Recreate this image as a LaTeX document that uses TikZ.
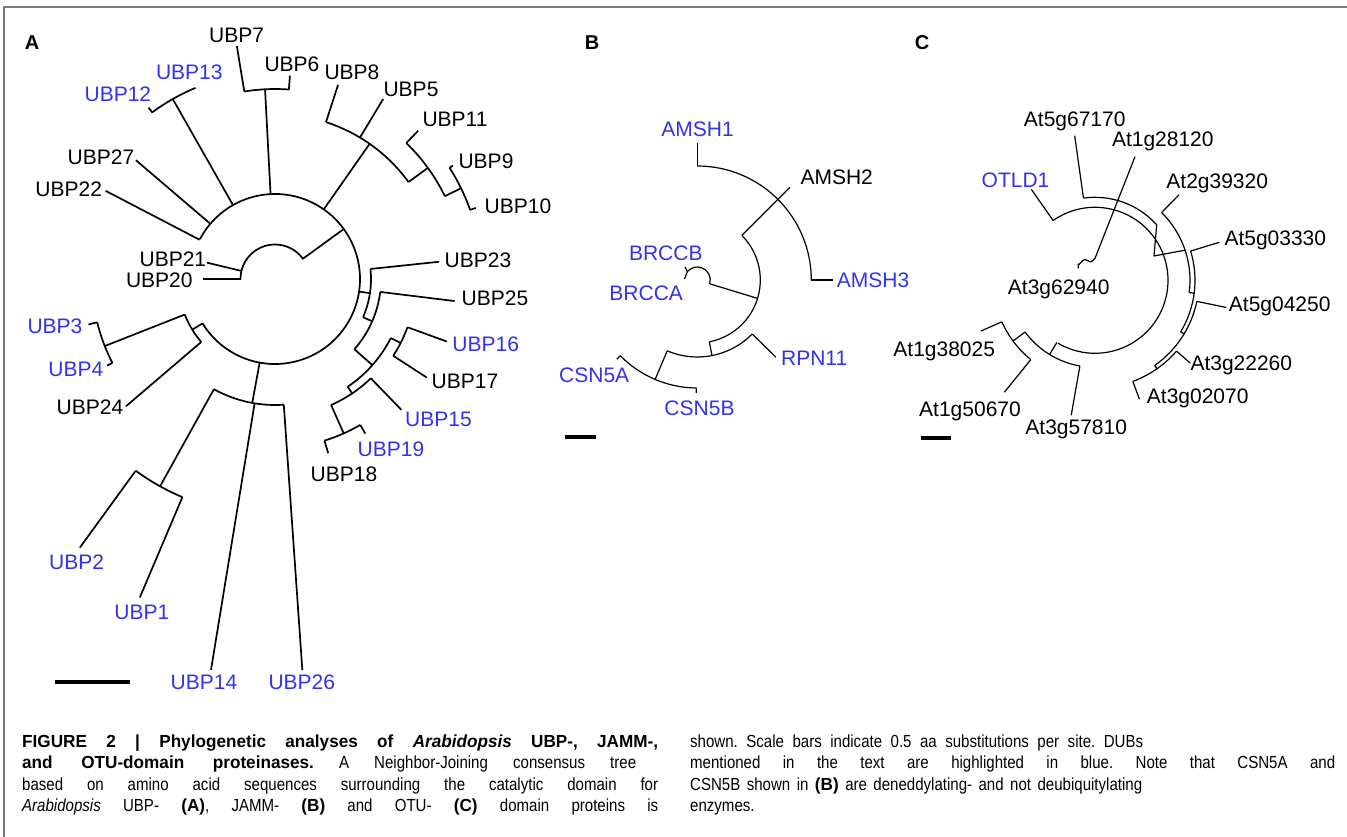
\documentclass[tikz,border=0pt]{standalone}
\usepackage{fontspec}
\setmainfont{Liberation Sans}
\newfontfamily\capfont[FakeStretch=0.86]{Liberation Sans}
\newfontfamily\capbfont[FakeStretch=0.98]{Liberation Sans}
\newcommand\cb[1]{{\capbfont\bfseries #1}}
\usetikzlibrary{calc}
\definecolor{hb}{RGB}{50,50,235}
\definecolor{framegray}{RGB}{120,120,120}
\newcommand\rad[5]{\draw[#1] ($(#2)+(#3:#4)$) -- ($(#2)+(#3:#5)$);}
\newcommand\arcc[5]{\draw[#1] ($(#2)+(#3:#5)$) arc[start angle=#3, end angle=#4, radius=#5];}
\begin{document}
\begin{tikzpicture}[x=1pt,y=-1pt,
  lab/.style={inner sep=0pt, font=\fontsize{21}{21}\selectfont},
  blab/.style={lab, text=hb},
  pan/.style={inner sep=0pt, font=\fontsize{20}{20}\selectfont\bfseries},
  ta/.style={line width=1.7pt, line join=round},
  tb/.style={line width=1.2pt, line join=round},
  sbar/.style={line width=4pt},
  captxt/.style={inner sep=0pt, anchor=base west, font=\capfont\fontsize{17.5}{21}\selectfont\frenchspacing}]
\useasboundingbox (0,0) rectangle (1347,837);
\draw[framegray, line width=2pt] (3,7) -- (1347,7);
\draw[framegray, line width=1.5pt] (4,7) -- (4,837);

% ---------------- Panel A ----------------
\node[pan] (pA) at (32,42.5) {A};
\coordinate (cA) at (275,279);
\arcc{ta}{cA}{208}{508.5}{85}
\rad{ta}{cA}{207.5}{85}{191}
\rad{ta}{cA}{220.5}{85}{183}
\rad{ta}{cA}{240.4}{85}{207}
\arcc{ta}{cA}{233.6}{247.4}{207}
\rad{ta}{cA}{233.6}{207}{213}
\rad{ta}{cA}{267}{85}{190}
\arcc{ta}{cA}{260.7}{274.2}{190}
\rad{ta}{cA}{260.7}{190}{236}
\rad{ta}{cA}{274.2}{190}{204}
\rad{ta}{cA}{305}{85}{165}
\arcc{ta}{cA}{288}{324}{165}
\rad{ta}{cA}{288}{165}{204}
\rad{ta}{cA}{301}{165}{210}
\rad{ta}{cA}{324}{165}{189}
\arcc{ta}{cA}{314}{334}{189}
\rad{ta}{cA}{314}{189}{206}
\rad{ta}{cA}{334}{189}{207}
\arcc{ta}{cA}{327.5}{340.5}{207}
\rad{ta}{cA}{327.5}{207}{211}
\rad{ta}{cA}{340.5}{207}{213}
\rad{ta}{cA}{324}{85}{34.5}
\arcc{ta}{cA}{180}{325}{34.5}
\rad{ta}{cA}{180}{34.5}{72}
\rad{ta}{cA}{193.5}{34.5}{70}
\rad{ta}{cA}{8.5}{85}{96}
\arcc{ta}{cA}{354}{383.5}{96}
\rad{ta}{cA}{354}{96}{165}
\rad{ta}{cA}{23.5}{96}{106}
\arcc{ta}{cA}{7}{41.5}{106}
\rad{ta}{cA}{7}{106}{181}
\rad{ta}{cA}{41.5}{106}{130}
\arcc{ta}{cA}{27}{56}{130}
\rad{ta}{cA}{27}{130}{141}
\arcc{ta}{cA}{20}{33}{141}
\rad{ta}{cA}{20}{141}{183}
\rad{ta}{cA}{33}{141}{181}
\rad{ta}{cA}{56}{130}{138}
\arcc{ta}{cA}{46}{66}{138}
\rad{ta}{cA}{46}{138}{182}
\rad{ta}{cA}{66}{138}{169}
\arcc{ta}{cA}{59.7}{73}{169}
\rad{ta}{cA}{59.7}{169}{179}
\rad{ta}{cA}{73}{169}{182}
\rad{ta}{cA}{100.4}{85}{126}
\arcc{ta}{cA}{86}{119}{126}
\rad{ta}{cA}{99.3}{126}{396}
\rad{ta}{cA}{86}{126}{392}
\rad{ta}{cA}{119}{126}{237}
\arcc{ta}{cA}{113}{126}{237}
\rad{ta}{cA}{126}{237}{332}
\rad{ta}{cA}{113}{237}{346}
\rad{ta}{cA}{148.5}{85}{97}
\arcc{ta}{cA}{139.5}{158.5}{97}
\rad{ta}{cA}{139.5}{97}{196}
\rad{ta}{cA}{158.5}{97}{183}
\arcc{ta}{cA}{152.7}{166.3}{183}
\rad{ta}{cA}{166.3}{183}{192}
\rad{ta}{cA}{152.7}{183}{189}

\node[lab]  (UBP7)  at (236.6,35.8) {UBP7};
\node[lab]  (UBP6)  at (292,64.2) {UBP6};
\node[blab] (UBP13) at (189.3,72.5) {UBP13};
\node[blab] (UBP12) at (117.9,94.2) {UBP12};
\node[lab]  (UBP8)  at (352,72.5) {UBP8};
\node[lab]  (UBP5)  at (411,89) {UBP5};
\node[lab]  (UBP11) at (455,119) {UBP11};
\node[lab]  (UBP27) at (101,157.5) {UBP27};
\node[lab]  (UBP9)  at (486,161.5) {UBP9};
\node[lab]  (UBP22) at (68.75,189) {UBP22};
\node[lab]  (UBP10) at (518,206) {UBP10};
\node[lab]  (UBP21) at (172.9,259) {UBP21};
\node[lab]  (UBP20) at (159.3,280.5) {UBP20};
\node[lab]  (UBP23) at (478,260) {UBP23};
\node[lab]  (UBP25) at (495,298) {UBP25};
\node[blab] (UBP3)  at (55,326) {UBP3};
\node[blab] (UBP16) at (485.7,344) {UBP16};
\node[blab] (UBP4)  at (75.9,369) {UBP4};
\node[lab]  (UBP17) at (465,381.7) {UBP17};
\node[lab]  (UBP24) at (90,407.5) {UBP24};
\node[blab] (UBP15) at (438.5,419) {UBP15};
\node[blab] (UBP19) at (391,449) {UBP19};
\node[lab]  (UBP18) at (344,474) {UBP18};
\node[blab] (UBP2)  at (76.6,562.5) {UBP2};
\node[blab] (UBP1)  at (141.8,612.5) {UBP1};
\node[blab] (UBP14) at (204,682.5) {UBP14};
\node[blab] (UBP26) at (301.8,682.5) {UBP26};
\coordinate (sA1) at (55.4,681.7); \coordinate (sA2) at (130.4,681.7);
\draw[sbar] (sA1) -- (sA2);

% ---------------- Panel B ----------------
\node[pan] (pB) at (592.2,42.2) {B};
\coordinate (cB) at (697.3,280);
\arcc{tb}{cB}{270}{360}{114}
\rad{tb}{cB}{270}{114}{137}
\rad{tb}{cB}{0}{114}{136}
\rad{tb}{cB}{315}{63}{131}
\arcc{tb}{cB}{315}{439}{63}
\rad{tb}{cB}{17}{63}{13}
\arcc{tb}{cB}{377}{220}{13}
\draw[tb] ($(cB)+(220:13)$) -- ($(cB)+(226.6:17.9)$);
\draw[tb] ($(cB)+(220:13)$) -- ($(cB)+(184.5:12.8)$);
\rad{tb}{cB}{79}{63}{77}
\arcc{tb}{cB}{44.5}{113}{77}
\rad{tb}{cB}{44.5}{77}{110}
\rad{tb}{cB}{113}{77}{108}
\arcc{tb}{cB}{90.5}{135.5}{108}
\rad{tb}{cB}{90.5}{108}{113}
\rad{tb}{cB}{135.5}{108}{113}
\node[blab] (AMSH1) at (697.5,129) {AMSH1};
\node[lab]  (AMSH2) at (836.7,177.5) {AMSH2};
\node[blab] (AMSH3) at (873,280) {AMSH3};
\node[blab] (BRCCB) at (665.8,253.3) {BRCCB};
\node[blab] (BRCCA) at (646.2,293.3) {BRCCA};
\node[blab] (RPN11) at (814.2,358.3) {RPN11};
\node[blab] (CSN5A) at (594.2,375) {CSN5A};
\node[blab] (CSN5B) at (699.5,408.3) {CSN5B};
\coordinate (sB1) at (565,437); \coordinate (sB2) at (596,437);
\draw[sbar] (sB1) -- (sB2);

% ---------------- Panel C ----------------
\node[pan] (pC) at (922,43) {C};
\coordinate (cC) at (1095,280.3);
\arcc{tb}{cC}{235}{480.5}{73}
\rad{tb}{cC}{235}{73}{111}
\rad{tb}{cC}{262}{83}{146}
\arcc{tb}{cC}{262}{318}{83}
\coordinate (P) at (1154,256);
\draw[tb] ($(cC)+(318:83)$) -- (P) -- ($(cC)+(341.5:95)$);
\arcc{tb}{cC}{314.5}{367.4}{95}
\rad{tb}{cC}{314.5}{95}{120}
\rad{tb}{cC}{7.4}{95}{100}
\arcc{tb}{cC}{343}{391}{100}
\rad{tb}{cC}{343}{100}{130}
\rad{tb}{cC}{31}{100}{104}
\arcc{tb}{cC}{11.7}{55}{104}
\rad{tb}{cC}{11.7}{104}{134}
\rad{tb}{cC}{55}{104}{108}
\arcc{tb}{cC}{41}{69.5}{108}
\rad{tb}{cC}{41}{108}{126}
\rad{tb}{cC}{69.5}{108}{127}
\rad{tb}{cC}{121.5}{73}{87}
\arcc{tb}{cC}{100}{143.5}{87}
\rad{tb}{cC}{100}{87}{137}
\rad{tb}{cC}{143.5}{87}{102}
\arcc{tb}{cC}{129}{156}{102}
\rad{tb}{cC}{129}{102}{144}
\rad{tb}{cC}{156}{102}{125}
\coordinate (r0) at (1078.3,268.3);
\coordinate (r1) at (1095,258.3);
\coordinate (t28120) at (1135,156.7);
\draw[tb] (r0) -- (1078.3,264) to[out=-90,in=180] (1085,259.5) to[out=0,in=-150] (1091.7,261.5) -- (r1) -- (t28120);
\node[lab]  (At5g67170) at (1074.7,121.7) {At5g67170};
\node[lab]  (At1g28120) at (1162.8,141.7) {At1g28120};
\node[blab] (OTLD1)     at (1015.5,180) {OTLD1};
\node[lab]  (At2g39320) at (1217.2,183.3) {At2g39320};
\node[lab]  (At5g03330) at (1275.3,240) {At5g03330};
\node[lab]  (At3g62940) at (1058.7,289.2) {At3g62940};
\node[lab]  (At5g04250) at (1279.7,306.2) {At5g04250};
\node[lab]  (At1g38025) at (944.2,351.7) {At1g38025};
\node[lab]  (At3g22260) at (1241.3,365) {At3g22260};
\node[lab]  (At3g02070) at (1197.7,398.3) {At3g02070};
\node[lab]  (At1g50670) at (970,411.7) {At1g50670};
\node[lab]  (At3g57810) at (1076.2,429.5) {At3g57810};
\coordinate (sC1) at (920.7,438.3); \coordinate (sC2) at (950.7,438.3);
\draw[sbar] (sC1) -- (sC2);

% ---------------- Caption ----------------
\node[captxt] (L1) at (22,747) {\makebox[636pt][s]{\cb{FIGURE 2 | Phylogenetic analyses of \itshape Arabidopsis\upshape\ UBP-, JAMM-,}}};
\node[captxt] (L2) at (22,768) {\makebox[614pt][s]{\cb{and OTU-domain proteinases.} A Neighbor-Joining consensus tree}};
\node[captxt] (L3) at (22,790) {\makebox[636pt][s]{based on amino acid sequences surrounding the catalytic domain for}};
\node[captxt] (L4) at (22,811) {\makebox[636pt][s]{\textit{Arabidopsis} UBP- \cb{(A)}, JAMM- \cb{(B)} and OTU- \cb{(C)} domain proteins is}};
\node[captxt] (R1) at (690,747) {\makebox[453pt][s]{shown. Scale bars indicate 0.5 aa substitutions per site. DUBs}};
\node[captxt] (R2) at (690,768) {\makebox[645pt][s]{mentioned in the text are highlighted in blue. Note that CSN5A and}};
\node[captxt] (R3) at (690,790) {\makebox[452pt][s]{CSN5B shown in \cb{(B)} are deneddylating- and not deubiquitylating}};
\node[captxt] (R4) at (690,811) {enzymes.};
\end{tikzpicture}
\end{document}
